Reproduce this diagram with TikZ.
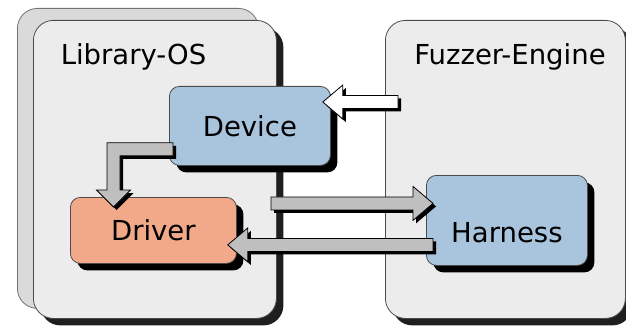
\documentclass[tikz,border=0pt]{standalone}
\usepackage{fontspec}
\setmainfont{DejaVu Sans}
\usetikzlibrary{shadows, calc}
\definecolor{PanelGrey}{RGB}{236,236,236}
\definecolor{BackGrey}{RGB}{218,218,218}
\definecolor{BoxBlue}{RGB}{169,196,221}
\definecolor{BoxSalmon}{RGB}{241,169,138}
\definecolor{ArrowGrey}{RGB}{191,191,191}
\newcommand{\bigtext}{\fontsize{27.5pt}{33pt}\selectfont}
% straight block arrow: [fill]{tail}{tip}
\newcommand{\hblockarrow}[3][ArrowGrey]{%
  \draw[blockarrow, fill=#1] let \p1=(#2), \p2=(#3), \n1={20pt*sign(\x2-\x1)} in
    (\x1,\y2+6.5pt) -- (\x2-\n1,\y2+6.5pt) -- (\x2-\n1,\y2+17pt) -- (\x2,\y2)
    -- (\x2-\n1,\y2-17pt) -- (\x2-\n1,\y2-6.5pt) -- (\x1,\y2-6.5pt) -- cycle;}

\begin{document}
\begin{tikzpicture}[x=1pt, y=-1pt,
    panel/.style={draw=black!70, line width=0.8pt, fill=PanelGrey, rounded corners=20pt, inner sep=0pt, anchor=north west},
    box/.style={draw=black!70, line width=0.8pt, rounded corners=10pt, inner sep=0pt, anchor=north west, font=\bigtext,
                drop shadow={shadow xshift=7pt, shadow yshift=-7pt, opacity=1, fill=black}},
    title/.style={font=\bigtext, anchor=base, inner sep=0pt},
    blockarrow/.style={draw=black, line width=0.8pt, line join=miter,
                drop shadow={shadow xshift=3pt, shadow yshift=-3pt, opacity=1, fill=black}}
  ]
  \useasboundingbox (0,0) rectangle (626,326);

  % panels
  \node[panel, draw=black!55, fill=BackGrey, minimum width=241pt, minimum height=300pt] (libback) at (17,8) {};
  \node[panel, minimum width=243pt, minimum height=298pt,
        drop shadow={shadow xshift=7pt, shadow yshift=-7pt, opacity=1, fill=black!88}] (libos) at (33,20) {};
  \node[panel, minimum width=240pt, minimum height=298pt,
        drop shadow={shadow xshift=7pt, shadow yshift=-7pt, opacity=1, fill=black!88}] (fuzzer) at (385,20) {};
  \node[title] (libtitle) at (133.5,65) {Library-OS};
  \node[title] (fuzztitle) at (510,65) {Fuzzer-Engine};

  % boxes
  \node[box, fill=BoxBlue, minimum width=161pt, minimum height=79pt] (device) at (169,86) {Device};
  \node[box, fill=BoxSalmon, minimum width=166pt, minimum height=66pt] (driver) at (70,197) {Driver};
  \node[box, fill=BoxBlue, minimum width=161pt, minimum height=90pt, text height=44pt, text depth=0pt] (harness) at (426,175) {Harness};

  % arrow ends
  \coordinate (fzout) at (398,102);
  \coordinate (devin) at ($(device.north east)+(-8,16)$);
  \coordinate (devout) at ($(device.south west)+(4,-16.5)$);
  \coordinate (drvin) at ($(driver.north west)+(43.5,10)$);
  \coordinate (drvout) at (271,203);
  \coordinate (hrnin) at ($(harness.west)+(7,-17)$);
  \coordinate (hrnout) at ($(harness.west)+(7,24.5)$);
  \coordinate (drvback) at ($(driver.east)+(-9,14.5)$);

  % arrows
  \hblockarrow[white]{fzout}{devin}
  \draw[blockarrow, fill=ArrowGrey] let \p1=(devout), \p2=(drvin) in
    (\x1,\y1+6.5pt) -- (\x2-6.5pt,\y1+6.5pt) -- (\x2-6.5pt,\y2+17pt) -- (\x2-17pt,\y2+17pt)
    -- (\x2,\y2) -- (\x2+17pt,\y2+17pt) -- (\x2+6.5pt,\y2+17pt) -- (\x2+6.5pt,\y1-6.5pt)
    -- (\x1,\y1-6.5pt) -- cycle;
  \hblockarrow{drvout}{hrnin}
  \hblockarrow{hrnout}{drvback}
\end{tikzpicture}
\end{document}
